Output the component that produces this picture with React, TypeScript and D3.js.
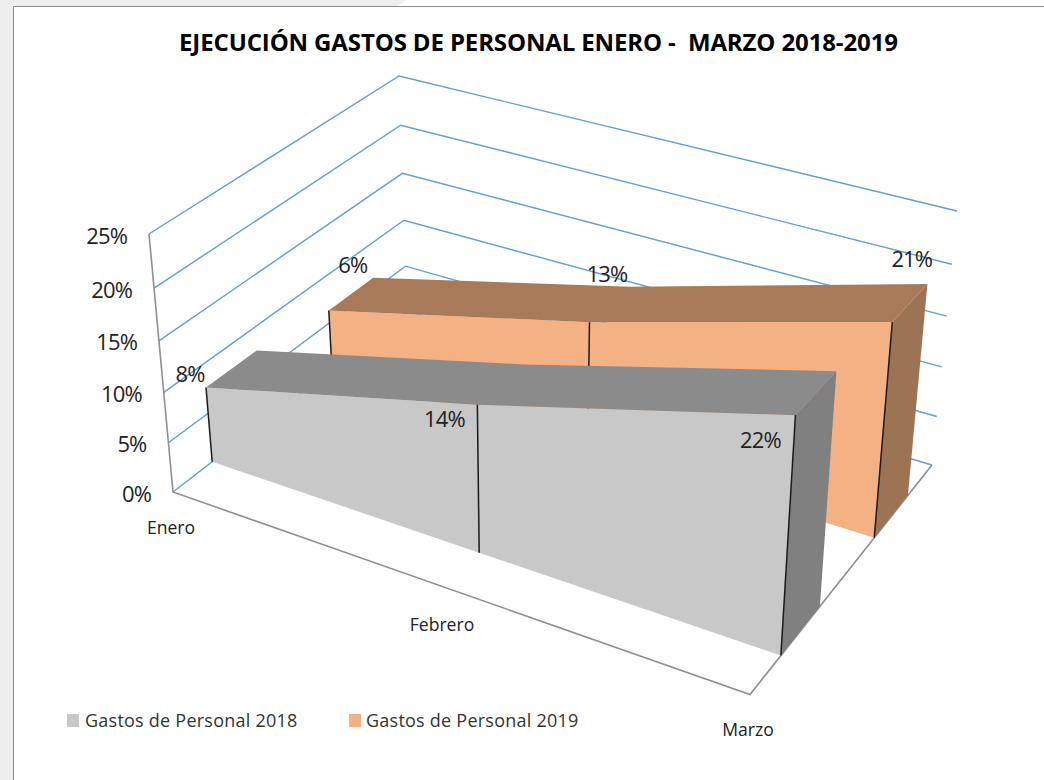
import React from "react";
import * as d3 from "d3";

const categories = ["Enero", "Febrero", "Marzo"];
const seriesNames = ["Gastos de Personal 2018", "Gastos de Personal 2019"];
const values2018 = [7.6, 14.3, 21.8];
const values2019 = [6.3, 12.9, 20.7];
const axisTicks = [0, 5, 10, 15, 20, 25];

type P = [number, number];
const floorCorners: P[] = [[173, 492], [750, 694.5], [932, 465], [407, 311]];
const topCorners: P[] = [[149, 234], [765, 412], [957, 211], [399, 76]];

function homography([a, b, c, d]: P[]) {
  const dx1 = b[0] - c[0], dy1 = b[1] - c[1];
  const dx2 = d[0] - c[0], dy2 = d[1] - c[1];
  const sx = a[0] - b[0] + c[0] - d[0], sy = a[1] - b[1] + c[1] - d[1];
  const den = dx1 * dy2 - dy1 * dx2;
  const g = (sx * dy2 - sy * dx2) / den;
  const h = (dx1 * sy - dy1 * sx) / den;
  return (u: number, t: number): P => {
    const w = 1 + g * u + h * t;
    return [
      ((b[0] * (1 + g) - a[0]) * u + (d[0] * (1 + h) - a[0]) * t + a[0]) / w,
      ((b[1] * (1 + g) - a[1]) * u + (d[1] * (1 + h) - a[1]) * t + a[1]) / w,
    ];
  };
}
const floorAt = homography(floorCorners);
const topAt = homography(topCorners);

const xScale = d3.scalePoint<string>().domain(categories).range([0, 1]);
const depthScale = d3.scaleBand<string>().domain(seriesNames).range([0, 1]).paddingInner(0.6).paddingOuter(0.3);
const valueScale = d3.scaleLinear().domain([0, 25]).range([0, 1]);
const FORESHORTEN = 1.06;

function project(u: number, t: number, value: number): P {
  const v = valueScale(value);
  const f = v / (v + (1 - v) * FORESHORTEN);
  const p0 = floorAt(u, t), p1 = topAt(u, t);
  return [p0[0] + (p1[0] - p0[0]) * f, p0[1] + (p1[1] - p0[1]) * f];
}

const line = d3.line<P>();
const closed = (pts: P[]) => line(pts) + "Z";

const seriesStyles = [
  { values: values2018, front: "#c8c8c8", top: "#8b8b8b", side: "#808080" },
  { values: values2019, front: "#f4b183", top: "#a87a59", side: "#9c7353" },
];
const labelOffsets: P[][] = [
  [[-16, -6], [-33, 22], [-35, 33]],
  [[24, -38], [17.5, -40], [19.5, -55]],
];
const tickLabelRight = 22;
const BODY_FONT = "'Open Sans', sans-serif";

export default function App() {
  const wallGrid = axisTicks.map((t) => {
    const pts: P[] = [project(0, 0, t), project(0, 1, t), project(1, 1, t)];
    return <path key={t} d={line(pts)!} fill="none" stroke="#5f9ed8" strokeWidth={1.4} />;
  });
  const band = depthScale.bandwidth();
  const order = [1, 0];
  return (
    <svg width={1044} height={780} viewBox="0 0 1044 780" style={{ position: "absolute", left: 0, top: 0, display: "block", background: "#fff" }}>
      <path d="M0 0H407L396 6.5H13.5V780H0Z" fill="#eeeeee" />
      <path d="M13.5 780V6.5H1044" fill="none" stroke="#8c8c8c" strokeWidth={1} />
      <text x={538.5} y={51} textAnchor="middle" fontFamily={BODY_FONT} fontWeight={700} fontSize={24} fill="#000" textLength={719} lengthAdjust="spacing" style={{ whiteSpace: "pre" }}>
        EJECUCIÓN GASTOS DE PERSONAL ENERO -  MARZO 2018-2019
      </text>
      {wallGrid}
      <path d={line([project(0, 0, 25), project(0, 0, 0), floorAt(1, 0), floorAt(1, 1)])!} fill="none" stroke="#8f8f8f" strokeWidth={1.6} />
      {order.map((si) => {
        const s = seriesStyles[si];
        const name = seriesNames[si];
        const d0 = depthScale(name)!;
        const d1 = d0 + band;
        const us = categories.map((c) => xScale(c)!);
        const frontTop = us.map((u, i) => project(u, d0, s.values[i]));
        const backTop = us.map((u, i) => project(u, d1, s.values[i]));
        const frontBot = us.map((u) => project(u, d0, 0));
        const last = us.length - 1;
        const frontFace = [...frontTop, ...frontBot.slice().reverse()];
        const sideFace = [frontTop[last], backTop[last], project(1, d1, 0), frontBot[last]];
        return (
          <g key={name}>
            <path d={closed(sideFace)} fill={s.side} />
            <path d={closed(frontFace)} fill={s.front} />
            <path d={closed([...frontTop, ...backTop.slice().reverse()])} fill={s.top} />
            {us.map((u, i) => (
              <path key={i} d={line([frontTop[i], frontBot[i]])!} stroke="#1a1a1a" strokeWidth={1.5} fill="none" />
            ))}
          </g>
        );
      })}
      {order.map((si) => {
        const s = seriesStyles[si];
        const d0 = depthScale(seriesNames[si])!;
        return categories.map((c, i) => {
          const p = project(xScale(c)!, d0, s.values[i]);
          return (
            <text key={si + c} x={p[0] + labelOffsets[si][i][0]} y={p[1] + labelOffsets[si][i][1]} textAnchor="middle" fontFamily={BODY_FONT} fontSize={22} letterSpacing={-0.9} fill="#222">
              {Math.round(s.values[i])}%
            </text>
          );
        });
      })}
      {axisTicks.map((t) => {
        const p = project(0, 0, t);
        return (
          <text key={t} x={p[0] - tickLabelRight} y={p[1] + 9.5} textAnchor="end" fontFamily={BODY_FONT} fontSize={22} letterSpacing={-0.9} fill="#222">
            {t}%
          </text>
        );
      })}
      {categories.map((c, i) => (
        <text key={c} x={[171, 442, 748][i]} y={[534, 631, 736][i]} textAnchor="middle" fontFamily={BODY_FONT} fontSize={17.6} fill="#222">
          {c}
        </text>
      ))}
      {seriesNames.map((n, i) => (
        <g key={n}>
          <rect x={67 + i * 282} y={714} width={12} height={13} fill={seriesStyles[i].front} />
          <text x={85 + i * 281} y={727} fontFamily={BODY_FONT} fontSize={18} letterSpacing={0.24} fill="#333">
            {n}
          </text>
        </g>
      ))}
    </svg>
  );
}
